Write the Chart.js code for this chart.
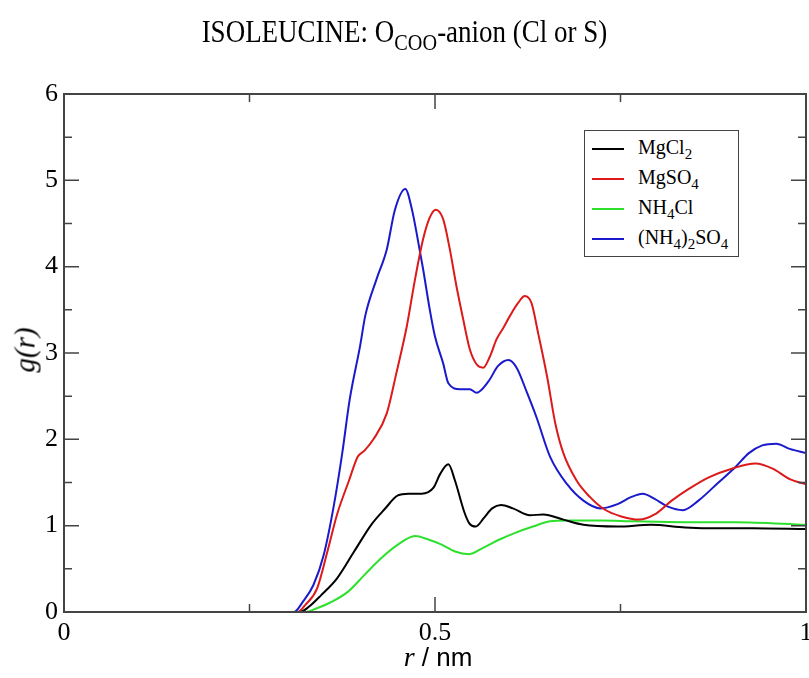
<!DOCTYPE html>
<html>
<head>
<meta charset="utf-8">
<script src="https://cdn.jsdelivr.net/npm/chart.js@4/dist/chart.umd.min.js"></script>
<style>
  body { margin: 0; background: #fff; }
  #wrap { position: relative; width: 809px; height: 678px; }
  #chart { position: absolute; left: 0; top: 0; }
  .txt { position: absolute; color: #000; font-family: 'Liberation Serif', 'DejaVu Serif', serif; white-space: nowrap; }
  #title { left: 0; width: 809px; top: 14px; text-align: center; font-size: 27px; transform: scaleY(1.15); transform-origin: 50% 0; }
  #title sub, #legend sub { font-size: 0.75em; vertical-align: -0.35em; line-height: 0; }
  #ytitle { left: 25px; top: 350px; font-size: 29px; font-style: italic; transform: translate(-50%, -50%) rotate(-90deg); }
  #xtitle { left: 438px; top: 641px; font-size: 28px; transform: translateX(-50%); }
  #xtitle .sans { font-family: 'Liberation Sans', Arial, sans-serif; font-size: 26px; }
  #legend { position: absolute; left: 584px; top: 130px; width: 153px; height: 125px; border: 1.5px solid #444; background: #fff; }
  .row { position: absolute; left: 0; height: 30px; }
  .swatch { position: absolute; left: 7px; width: 32px; height: 2px; }
  .lab { position: absolute; left: 53px; font-size: 20px; font-family: 'Liberation Serif', serif; }
</style>
</head>
<body>
<div id="wrap">
  <canvas id="chart" width="809" height="678"></canvas>
  <div id="title" class="txt">ISOLEUCINE: O<sub>COO</sub>-anion (Cl or S)</div>
  <div id="ytitle" class="txt">g(r)</div>
  <div id="xtitle" class="txt"><i>r</i><span class="sans"> / nm</span></div>
  <div id="legend"></div>
</div>
<script>
// g(r) curves (r in nm)
const mgcl2R = [0, 0.318, 0.330, 0.346, 0.368, 0.391, 0.414, 0.432, 0.450, 0.464, 0.482, 0.498, 0.507, 0.518, 0.527, 0.539, 0.546, 0.555, 0.566, 0.577, 0.589, 0.605, 0.628, 0.646, 0.673, 0.700, 0.746, 0.791, 0.837, 0.882, 0.928, 1.0];
const mgcl2G = [0, 0, 0.06, 0.19, 0.39, 0.70, 1.01, 1.19, 1.35, 1.37, 1.37, 1.44, 1.60, 1.71, 1.52, 1.17, 1.03, 0.99, 1.09, 1.20, 1.24, 1.20, 1.12, 1.13, 1.07, 1.01, 0.99, 1.01, 0.98, 0.97, 0.97, 0.96];

const mgso4R = [0, 0.315, 0.325, 0.341, 0.355, 0.368, 0.384, 0.396, 0.405, 0.417, 0.435, 0.448, 0.462, 0.473, 0.484, 0.493, 0.501, 0.511, 0.520, 0.529, 0.538, 0.547, 0.556, 0.565, 0.574, 0.583, 0.592, 0.601, 0.612, 0.621, 0.630, 0.639, 0.651, 0.662, 0.673, 0.691, 0.709, 0.728, 0.750, 0.775, 0.796, 0.819, 0.841, 0.869, 0.900, 0.932, 0.955, 0.978, 1.0];
const mgso4G = [0, 0, 0.08, 0.27, 0.70, 1.13, 1.52, 1.80, 1.87, 2.00, 2.30, 2.77, 3.31, 3.85, 4.32, 4.57, 4.66, 4.55, 4.20, 3.77, 3.39, 3.04, 2.87, 2.83, 2.96, 3.16, 3.29, 3.43, 3.58, 3.66, 3.58, 3.23, 2.73, 2.19, 1.84, 1.52, 1.33, 1.19, 1.11, 1.07, 1.13, 1.29, 1.42, 1.56, 1.66, 1.72, 1.66, 1.54, 1.48];

const nh4clR = [0, 0.325, 0.340, 0.359, 0.382, 0.405, 0.427, 0.450, 0.473, 0.491, 0.509, 0.527, 0.546, 0.564, 0.587, 0.609, 0.632, 0.655, 0.678, 0.723, 0.768, 0.837, 0.905, 1.0];
const nh4clG = [0, 0, 0.04, 0.11, 0.23, 0.43, 0.62, 0.78, 0.88, 0.84, 0.78, 0.70, 0.67, 0.74, 0.84, 0.92, 0.99, 1.05, 1.06, 1.06, 1.05, 1.04, 1.04, 1.01];

const nh42so4R = [0, 0.310, 0.322, 0.336, 0.350, 0.364, 0.375, 0.385, 0.399, 0.406, 0.421, 0.435, 0.446, 0.460, 0.469, 0.475, 0.484, 0.493, 0.500, 0.511, 0.518, 0.534, 0.547, 0.556, 0.572, 0.585, 0.599, 0.610, 0.624, 0.637, 0.655, 0.678, 0.700, 0.723, 0.746, 0.764, 0.780, 0.796, 0.814, 0.834, 0.855, 0.882, 0.905, 0.923, 0.941, 0.960, 0.978, 1.0];
const nh42so4G = [0, 0, 0.12, 0.31, 0.66, 1.25, 1.84, 2.46, 3.08, 3.43, 3.85, 4.20, 4.66, 4.90, 4.66, 4.40, 3.97, 3.50, 3.19, 2.88, 2.65, 2.58, 2.58, 2.54, 2.67, 2.85, 2.92, 2.83, 2.54, 2.25, 1.80, 1.48, 1.29, 1.20, 1.25, 1.33, 1.37, 1.31, 1.22, 1.18, 1.29, 1.50, 1.68, 1.84, 1.93, 1.95, 1.89, 1.84];

const seriesNames = ['MgCl<sub>2</sub>', 'MgSO<sub>4</sub>', 'NH<sub>4</sub>Cl', '(NH<sub>4</sub>)<sub>2</sub>SO<sub>4</sub>'];
const seriesLabels = ['MgCl2', 'MgSO4', 'NH4Cl', '(NH4)2SO4'];
const seriesColors = ['#000000', '#dd1a1a', '#2ee02e', '#1a1acc'];
const xTicks = [0, 0.5, 1];
const yTicks = [0, 1, 2, 3, 4, 5, 6];

const rs = [mgcl2R, mgso4R, nh4clR, nh42so4R];
const gs = [mgcl2G, mgso4G, nh4clG, nh42so4G];

const datasets = seriesLabels.map((name, i) => ({
    label: name,
    data: rs[i].map((r, j) => ({ x: r, y: gs[i][j] })),
    borderColor: seriesColors[i],
    borderWidth: 2,
    pointRadius: 0,
    showLine: true,
    cubicInterpolationMode: 'monotone',
    fill: false
}));

// legend built from the series
const legend = document.getElementById('legend');
seriesNames.forEach((n, i) => {
    const row = document.createElement('div');
    row.className = 'row';
    row.style.top = (3 + i * 30) + 'px';
    row.style.width = '150px';
    row.innerHTML = `<div class="swatch" style="top:14px;background:${seriesColors[i]}"></div><div class="lab" style="top:2px">${n}</div>`;
    legend.appendChild(row);
});

// frame and inward ticks, drawn from the scales
const frameTicks = {
    id: 'frameTicks',
    afterDraw(chart) {
        const ctx = chart.ctx;
        const a = chart.chartArea;
        const xs = chart.scales.x, ys = chart.scales.y;
        ctx.save();
        ctx.strokeStyle = '#444';
        ctx.lineWidth = 2;
        ctx.strokeRect(a.left, a.top, a.right - a.left, a.bottom - a.top);
        ctx.lineWidth = 1.5;
        ctx.beginPath();
        for (let v = 0; v <= 1.0001; v += 0.25) {
            const len = Math.abs(v * 2 - Math.round(v * 2)) < 1e-6 ? 15 : 8;
            const px = xs.getPixelForValue(v);
            ctx.moveTo(px, a.bottom); ctx.lineTo(px, a.bottom - len);
            ctx.moveTo(px, a.top); ctx.lineTo(px, a.top + len);
        }
        for (let v = 0; v <= 6.0001; v += 0.5) {
            const len = Math.abs(v - Math.round(v)) < 1e-6 ? 15 : 8;
            const py = ys.getPixelForValue(v);
            ctx.moveTo(a.left, py); ctx.lineTo(a.left + len, py);
            ctx.moveTo(a.right, py); ctx.lineTo(a.right - len, py);
        }
        ctx.stroke();
        ctx.restore();
    }
};

new Chart(document.getElementById('chart').getContext('2d'), {
    type: 'scatter',
    data: { datasets: datasets },
    options: {
        responsive: false,
        animation: false,
        layout: { padding: { top: 94, right: 3, left: 0, bottom: 0 } },
        plugins: { legend: { display: false }, tooltip: { enabled: false } },
        scales: {
            x: {
                type: 'linear', min: 0, max: 1,
                grid: { display: false, drawTicks: false },
                border: { display: false },
                afterBuildTicks: s => { s.ticks = xTicks.map(v => ({ value: v })); },
                afterFit: s => { s.height = 66; s.paddingLeft = 0; s.paddingRight = 0; },
                ticks: {
                    color: '#000', padding: 6, maxRotation: 0,
                    font: { family: 'Liberation Serif', size: 26 },
                    callback: v => String(v)
                }
            },
            y: {
                min: 0, max: 6,
                grid: { display: false, drawTicks: false },
                border: { display: false },
                afterBuildTicks: s => { s.ticks = yTicks.map(v => ({ value: v })); },
                afterFit: s => { s.width = 64; },
                ticks: {
                    color: '#000', padding: 6,
                    font: { family: 'Liberation Serif', size: 26 },
                    callback: v => String(v)
                }
            }
        }
    },
    plugins: [frameTicks]
});
</script>
</body>
</html>
